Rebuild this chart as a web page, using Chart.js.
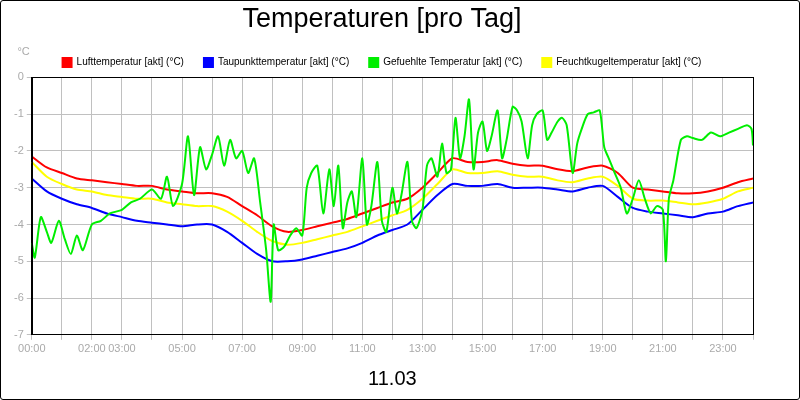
<!DOCTYPE html>
<html><head><meta charset="utf-8">
<script src="https://cdn.jsdelivr.net/npm/chart.js@4"></script>
<style>html,body{margin:0;padding:0;background:#fff}
#w{width:798px;height:398px;border:1px solid #000;border-radius:3px;position:relative}
canvas{display:block}
</style></head><body><div id="w"><canvas id="c" width="798" height="398" style="width:798px;height:398px"></canvas></div>
<script>
const tickHours=[0,2,3,5,7,9,11,13,15,17,19,21,23];
const smoothHours=[0,0.5,1,1.5,2,2.5,3,3.5,4,4.5,5,5.5,6,6.5,7,7.5,8,8.5,9,9.5,10,10.5,11,11.5,12,12.5,13,13.5,14,14.5,15,15.5,16,16.5,17,17.5,18,18.5,19,19.5,20,20.5,21,21.5,22,22.5,23,23.5,24];
const luft=[-2.15,-2.45,-2.6,-2.75,-2.8,-2.85,-2.9,-2.95,-2.95,-3.05,-3.1,-3.15,-3.15,-3.25,-3.5,-3.75,-4.05,-4.2,-4.15,-4.05,-3.95,-3.85,-3.7,-3.55,-3.4,-3.3,-3.0,-2.6,-2.2,-2.3,-2.3,-2.25,-2.35,-2.4,-2.4,-2.5,-2.55,-2.45,-2.4,-2.6,-3.0,-3.05,-3.1,-3.15,-3.15,-3.1,-3.0,-2.85,-2.75];
const feucht=[-2.3,-2.7,-2.9,-3.05,-3.1,-3.2,-3.25,-3.3,-3.3,-3.4,-3.45,-3.5,-3.5,-3.65,-3.9,-4.2,-4.45,-4.55,-4.5,-4.4,-4.3,-4.2,-4.05,-3.9,-3.75,-3.6,-3.3,-2.9,-2.5,-2.6,-2.6,-2.55,-2.65,-2.7,-2.7,-2.8,-2.85,-2.75,-2.7,-2.95,-3.3,-3.35,-3.35,-3.4,-3.45,-3.4,-3.3,-3.1,-3.0];
const taupunkt=[-2.75,-3.1,-3.3,-3.45,-3.55,-3.7,-3.8,-3.9,-3.95,-4.0,-4.05,-4.0,-4.0,-4.2,-4.5,-4.8,-5.0,-5.0,-4.95,-4.85,-4.75,-4.65,-4.5,-4.3,-4.15,-4.0,-3.6,-3.2,-2.9,-2.95,-2.95,-2.9,-3.0,-3.0,-3.0,-3.05,-3.1,-3.0,-2.95,-3.25,-3.55,-3.65,-3.7,-3.75,-3.8,-3.7,-3.65,-3.5,-3.4];
const gruenHours=[0,0.1,0.3,0.5,0.65,0.9,1.1,1.3,1.5,1.7,2.0,2.3,2.6,3.0,3.3,3.6,4.0,4.3,4.5,4.7,5.0,5.2,5.4,5.6,5.8,6.0,6.2,6.4,6.6,6.8,7.0,7.2,7.4,7.6,7.8,7.95,8.05,8.2,8.4,8.6,8.8,9.0,9.15,9.3,9.5,9.7,9.9,10.05,10.2,10.35,10.5,10.65,10.8,11.0,11.15,11.3,11.5,11.65,11.8,12.0,12.15,12.3,12.5,12.65,12.8,13.0,13.15,13.3,13.5,13.65,13.8,13.95,14.1,14.25,14.4,14.55,14.7,14.85,15.0,15.15,15.3,15.5,15.65,15.8,16.0,16.15,16.3,16.5,16.65,16.8,17.0,17.15,17.3,17.5,17.65,17.8,18.0,18.15,18.3,18.5,18.7,18.9,19.05,19.2,19.4,19.6,19.8,20.0,20.2,20.4,20.6,20.8,21.0,21.1,21.2,21.35,21.6,21.8,22.0,22.3,22.6,22.9,23.2,23.5,23.8,23.95,24];
const gruen=[-4.5,-4.9,-3.8,-4.2,-4.5,-3.9,-4.4,-4.8,-4.3,-4.7,-4.0,-3.9,-3.7,-3.6,-3.4,-3.3,-3.05,-3.3,-2.7,-3.5,-2.9,-1.6,-3.2,-1.9,-2.5,-2.1,-1.6,-2.4,-1.7,-2.2,-2.0,-2.6,-2.2,-3.4,-4.7,-6.1,-4.0,-4.7,-4.6,-4.3,-4.1,-4.3,-3.0,-2.6,-2.4,-3.7,-2.5,-3.5,-2.4,-4.1,-3.4,-3.1,-3.8,-2.2,-4.0,-3.5,-2.3,-3.9,-4.2,-3.0,-3.7,-3.2,-2.3,-3.9,-4.1,-3.6,-2.4,-2.2,-2.7,-1.8,-2.6,-2.5,-1.1,-2.2,-1.6,-0.6,-2.5,-1.5,-1.2,-2.0,-1.6,-0.9,-2.2,-1.7,-0.8,-0.9,-1.2,-2.2,-1.3,-1.0,-0.9,-1.7,-1.5,-1.2,-1.1,-1.3,-2.6,-1.8,-1.4,-1.0,-0.95,-0.9,-1.9,-2.2,-2.6,-3.0,-3.7,-3.3,-2.8,-3.3,-3.7,-3.5,-3.6,-5.0,-3.3,-2.8,-1.7,-1.6,-1.65,-1.7,-1.5,-1.6,-1.5,-1.4,-1.3,-1.4,-1.85];
const pts=(xs,ys)=>xs.map((x,i)=>({x,y:ys[i]}));
const unitPlugin={id:'unit',afterDraw(ch){const c=ch.ctx;c.save();c.fillStyle='#aaa';c.font='11px "Liberation Sans"';c.textAlign='right';c.fillText('°C',ch.chartArea.left-2,51);
c.strokeStyle='#000';c.lineWidth=1;const a=ch.chartArea;c.strokeRect(Math.round(a.left)+0.5,Math.round(a.top)+0.5,Math.round(a.right-a.left),Math.round(a.bottom-a.top));c.restore();}};
const ds=(label,color,data)=>({label,data,borderColor:color,backgroundColor:color,borderWidth:2,pointRadius:0,tension:0.25,fill:false});
new Chart(document.getElementById('c'),{type:'line',
data:{datasets:[
ds('Gefuehlte Temperatur [akt] (°C)','#00ee00',pts(gruenHours,gruen)),
ds('Lufttemperatur [akt] (°C)','#ff0000',pts(smoothHours,luft)),
ds('Feuchtkugeltemperatur [akt] (°C)','#ffff00',pts(smoothHours,feucht)),
ds('Taupunkttemperatur [akt] (°C)','#0000ff',pts(smoothHours,taupunkt))]},
options:{responsive:false,animation:false,devicePixelRatio:1,
layout:{padding:{left:10,right:46,top:0,bottom:4}},
plugins:{title:{display:true,text:'Temperaturen [pro Tag]',color:'#000',font:{family:'Liberation Sans',size:27,weight:'normal'},padding:{top:2,bottom:2}},
legend:{labels:{boxWidth:9,boxHeight:9,color:'#000',font:{family:'Liberation Sans',size:10},padding:20,
sort:(a,b)=>[1,3,0,2].indexOf(a.datasetIndex)-[1,3,0,2].indexOf(b.datasetIndex)}},tooltip:{enabled:false}},
scales:{x:{type:'linear',min:0,max:24,border:{color:'#000'},
grid:{color:'#c0c0c0',tickLength:5},
afterBuildTicks:s=>{s.ticks=Array.from({length:25},(_,i)=>({value:i}));},
ticks:{autoSkip:false,maxRotation:0,color:'#aaa',font:{family:'Liberation Sans',size:11},callback:v=>tickHours.includes(v)?String(v).padStart(2,'0')+':00':''},
title:{display:true,text:'11.03',color:'#000',font:{family:'Liberation Sans',size:20},padding:{top:8}}},
y:{min:-7,max:0,border:{color:'#000'},grid:{color:'#c0c0c0',tickLength:5},
ticks:{stepSize:1,color:'#aaa',font:{family:'Liberation Sans',size:11}}}}},
plugins:[unitPlugin]});
</script></body></html>
